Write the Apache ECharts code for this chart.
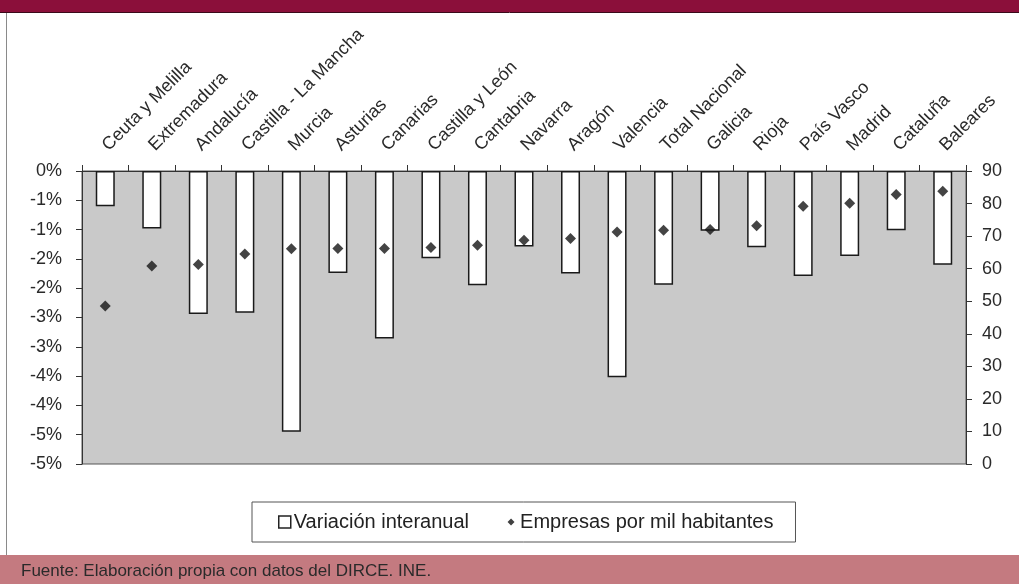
<!DOCTYPE html>
<html>
<head>
<meta charset="utf-8">
<script src="https://cdn.jsdelivr.net/npm/echarts@6/dist/echarts.min.js"></script>
<style>
  html, body { margin: 0; padding: 0; background: #fff; }
  #main { width: 1019px; height: 584px; }
</style>
</head>
<body>
<div id="main"></div>
<script>
// categorías (orden del gráfico)
var categorias = ['Ceuta y Melilla','Extremadura','Andalucía','Castilla - La Mancha','Murcia','Asturias','Canarias','Castilla y León','Cantabria','Navarra','Aragón','Valencia','Total Nacional','Galicia','Rioja','País Vasco','Madrid','Cataluña','Baleares'];
// variación interanual (%), eje izquierdo
var variacion = [-0.60,-0.98,-2.44,-2.42,-4.45,-1.74,-2.86,-1.49,-1.95,-1.29,-1.75,-3.52,-1.94,-1.02,-1.30,-1.79,-1.45,-1.01,-1.60];
// empresas por mil habitantes, eje derecho
var empresas = [48.5,60.8,61.3,64.5,66.1,66.2,66.2,66.5,67.2,68.7,69.3,71.3,71.8,72.0,73.2,79.2,80.1,82.8,83.8];

var fuente = 'Fuente: Elaboración propia con datos del DIRCE. INE.';
var FONT = '"Liberation Sans", Arial, sans-serif';

var myChart = echarts.init(document.getElementById('main'));

var option = {
  backgroundColor: '#fff',
  animation: false,
  textStyle: { fontFamily: FONT },
  title: {
    text: fuente,
    left: 16,
    top: 558,
    textStyle: { fontSize: 17, fontWeight: 'normal', color: '#2a2a2a', fontFamily: FONT }
  },
  graphic: [
    { type: 'rect', left: 0, top: 0, shape: { width: 1019, height: 12 }, style: { fill: '#8b0f3a' } },
    { type: 'line', shape: { x1: 0, y1: 12.5, x2: 1019, y2: 12.5 }, style: { stroke: '#3a0a1a', lineWidth: 1 } },
    { type: 'rect', left: 0, top: 555, shape: { width: 1019, height: 29 }, style: { fill: '#c47a80' } },
    { type: 'line', shape: { x1: 6.5, y1: 13, x2: 6.5, y2: 555 }, style: { stroke: '#8a8a8a', lineWidth: 1 } }
  ],
  grid: {
    left: 82,
    right: 53,
    top: 171,
    bottom: 120,
    show: true,
    backgroundColor: '#c9c9c9',
    borderColor: '#555',
    borderWidth: 1
  },
  legend: {
    left: 252,
    top: 502,
    padding: [10, 22, 10, 26],
    borderColor: '#555',
    borderWidth: 1,
    backgroundColor: '#fff',
    itemWidth: 12,
    itemHeight: 12,
    itemGap: 36,
    textStyle: { fontSize: 20, color: '#222', fontFamily: FONT, padding: [0, 0, 0, -2] },
    data: [
      { name: 'Variación interanual', icon: 'rect', itemStyle: { color: '#fff', borderColor: '#222', borderWidth: 1.5 } },
      { name: 'Empresas por mil habitantes', icon: 'path://M0,0L0.01,0M12,12L12.01,12M6,2.5L9.5,6L6,9.5L2.5,6Z', itemStyle: { color: '#111', borderWidth: 0 } }
    ]
  },
  xAxis: {
    type: 'category',
    position: 'top',
    data: categorias,
    axisLine: { onZero: false, lineStyle: { color: '#333', width: 1 } },
    axisTick: { show: true, length: 6, lineStyle: { color: '#333' } },
    axisLabel: {
      rotate: -45,
      margin: 23,
      fontSize: 18,
      color: '#2a2a2a',
      interval: 0
    },
    splitLine: { show: false }
  },
  yAxis: [
    {
      type: 'value',
      position: 'left',
      min: -5,
      max: 0,
      interval: 0.5,
      axisLine: { show: true, lineStyle: { color: '#333' } },
      axisTick: { show: true, length: 6, lineStyle: { color: '#333' } },
      axisLabel: {
        fontSize: 18,
        color: '#2a2a2a',
        margin: 20,
        formatter: function (v) {
          if (v >= 0) return '0%';
          return '-' + Math.round(Math.abs(v)) + '%';
        }
      },
      splitLine: { show: false }
    },
    {
      type: 'value',
      position: 'right',
      min: 0,
      max: 90,
      interval: 10,
      axisLine: { show: true, lineStyle: { color: '#333' } },
      axisTick: { show: true, length: 6, lineStyle: { color: '#333' } },
      axisLabel: { fontSize: 18, color: '#2a2a2a', margin: 16 },
      splitLine: { show: false }
    }
  ],
  series: [
    {
      name: 'Variación interanual',
      type: 'bar',
      yAxisIndex: 0,
      barWidth: 19,
      data: variacion,
      itemStyle: { color: '#fff', borderColor: '#1a1a1a', borderWidth: 1.5 }
    },
    {
      name: 'Empresas por mil habitantes',
      type: 'scatter',
      yAxisIndex: 1,
      symbol: 'diamond',
      symbolSize: 11,
      data: empresas,
      itemStyle: { color: '#151515' },
      z: 5
    }
  ]
};

myChart.setOption(option);
</script>
</body>
</html>
